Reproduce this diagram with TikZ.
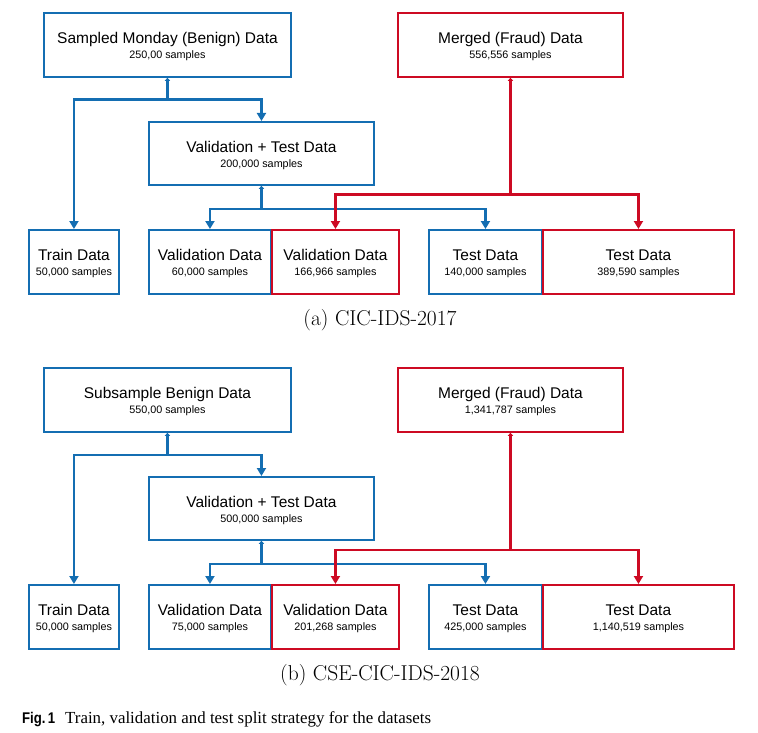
\documentclass[tikz,border=0pt]{standalone}
\usepackage{fontspec}
\usepackage{graphicx}
\usetikzlibrary{arrows.meta}
\newfontfamily\boxfont{Liberation Sans}
\newfontfamily\capsans{Liberation Sans}
\newfontfamily\capserif{Liberation Serif}
\definecolor{cblue}{RGB}{20,110,178}
\definecolor{cred}{RGB}{205,10,35}
\tikzset{
  dbox/.style={draw, line width=1.9pt, fill=white, inner sep=0pt, anchor=north west,
    align=center, minimum height=64pt, font=\boxfont\fontsize{15.5}{15}\selectfont},
  bbox/.style={dbox, draw=cblue},
  rbox/.style={dbox, draw=cred},
  conn/.style={line width=2.8pt, {Triangle[width=5pt,length=3pt]}-{Triangle[width=9pt,length=8pt]}},
  bconn/.style={conn, draw=cblue},
  rconn/.style={conn, draw=cred},
  subcap/.style={font=\fontsize{21.5}{24}\selectfont, anchor=center},
}
\newcommand{\smp}[1]{{\fontsize{10.8}{12}\selectfont #1}}
\newcommand{\hd}[1]{\rule{0pt}{15pt}#1}
\begin{document}
\begin{tikzpicture}[x=1pt,y=-1pt]
\useasboundingbox (0,0) rectangle (758,733);
% ---------- panel (a) ----------
\node[bbox, minimum width=247pt] (asmb) at (43,12) {\hd{Sampled Monday (Benign) Data}\\\smp{250,00 samples}};
\node[rbox, minimum width=225pt] (amer) at (397,12) {\hd{Merged (Fraud) Data}\\\smp{556,556 samples}};
\node[bbox, minimum width=225pt, minimum height=63pt] (avt) at (148,121) {\hd{Validation + Test Data}\\\smp{200,000 samples}};
\node[bbox, minimum width=90pt] (atr) at (28,229) {\hd{Train Data}\\\smp{50,000 samples}};
\node[bbox, minimum width=122pt] (avb) at (148,229) {\hd{Validation Data}\\\smp{60,000 samples}};
\node[rbox, minimum width=127pt] (avr) at (271,229) {\hd{Validation Data}\\\smp{166,966 samples}};
\node[bbox, minimum width=113pt] (atb) at (428,229) {\hd{Test Data}\\\smp{140,000 samples}};
\node[rbox, minimum width=191pt] (atrd) at (542,229) {\hd{Test Data}\\\smp{389,590 samples}};
\draw[bconn] (asmb.south) -- ++(0,22) -| (atr.north);
\draw[bconn] (asmb.south) -- ++(0,22) -| (avt.north);
\draw[bconn] (avt.south) -- ++(0,23) -| (avb.north);
\draw[bconn] (avt.south) -- ++(0,23) -| (atb.north);
\draw[rconn] (amer.south) -- ++(0,117) -| (avr.north);
\draw[rconn] (amer.south) -- ++(0,117) -| (atrd.north);
\node[subcap] (capa) at (380,320) {(a) CIC-IDS-2017};
% ---------- panel (b) ----------
\node[bbox, minimum width=247pt] (bsmb) at (43,367) {\hd{Subsample Benign Data}\\\smp{550,00 samples}};
\node[rbox, minimum width=225pt] (bmer) at (397,367) {\hd{Merged (Fraud) Data}\\\smp{1,341,787 samples}};
\node[bbox, minimum width=225pt, minimum height=63pt] (bvt) at (148,476) {\hd{Validation + Test Data}\\\smp{500,000 samples}};
\node[bbox, minimum width=90pt] (btr) at (28,584) {\hd{Train Data}\\\smp{50,000 samples}};
\node[bbox, minimum width=122pt] (bvb) at (148,584) {\hd{Validation Data}\\\smp{75,000 samples}};
\node[rbox, minimum width=127pt] (bvr) at (271,584) {\hd{Validation Data}\\\smp{201,268 samples}};
\node[bbox, minimum width=113pt] (btb) at (428,584) {\hd{Test Data}\\\smp{425,000 samples}};
\node[rbox, minimum width=191pt] (btrd) at (542,584) {\hd{Test Data}\\\smp{1,140,519 samples}};
\draw[bconn] (bsmb.south) -- ++(0,22) -| (btr.north);
\draw[bconn] (bsmb.south) -- ++(0,22) -| (bvt.north);
\draw[bconn] (bvt.south) -- ++(0,23) -| (bvb.north);
\draw[bconn] (bvt.south) -- ++(0,23) -| (btb.north);
\draw[rconn] (bmer.south) -- ++(0,117) -| (bvr.north);
\draw[rconn] (bmer.south) -- ++(0,117) -| (btrd.north);
\node[subcap] (capb) at (380,675) {(b) CSE-CIC-IDS-2018};
% ---------- figure caption ----------
\node[anchor=base west, inner sep=0pt] (fig) at (22,723)
  {\scalebox{0.85}[1]{\capsans\bfseries\fontsize{15.5}{17}\selectfont Fig.\,1}\hspace{10pt}{\capserif\fontsize{16.9}{19}\selectfont Train, validation and test split strategy for the datasets}};
\end{tikzpicture}
\end{document}
